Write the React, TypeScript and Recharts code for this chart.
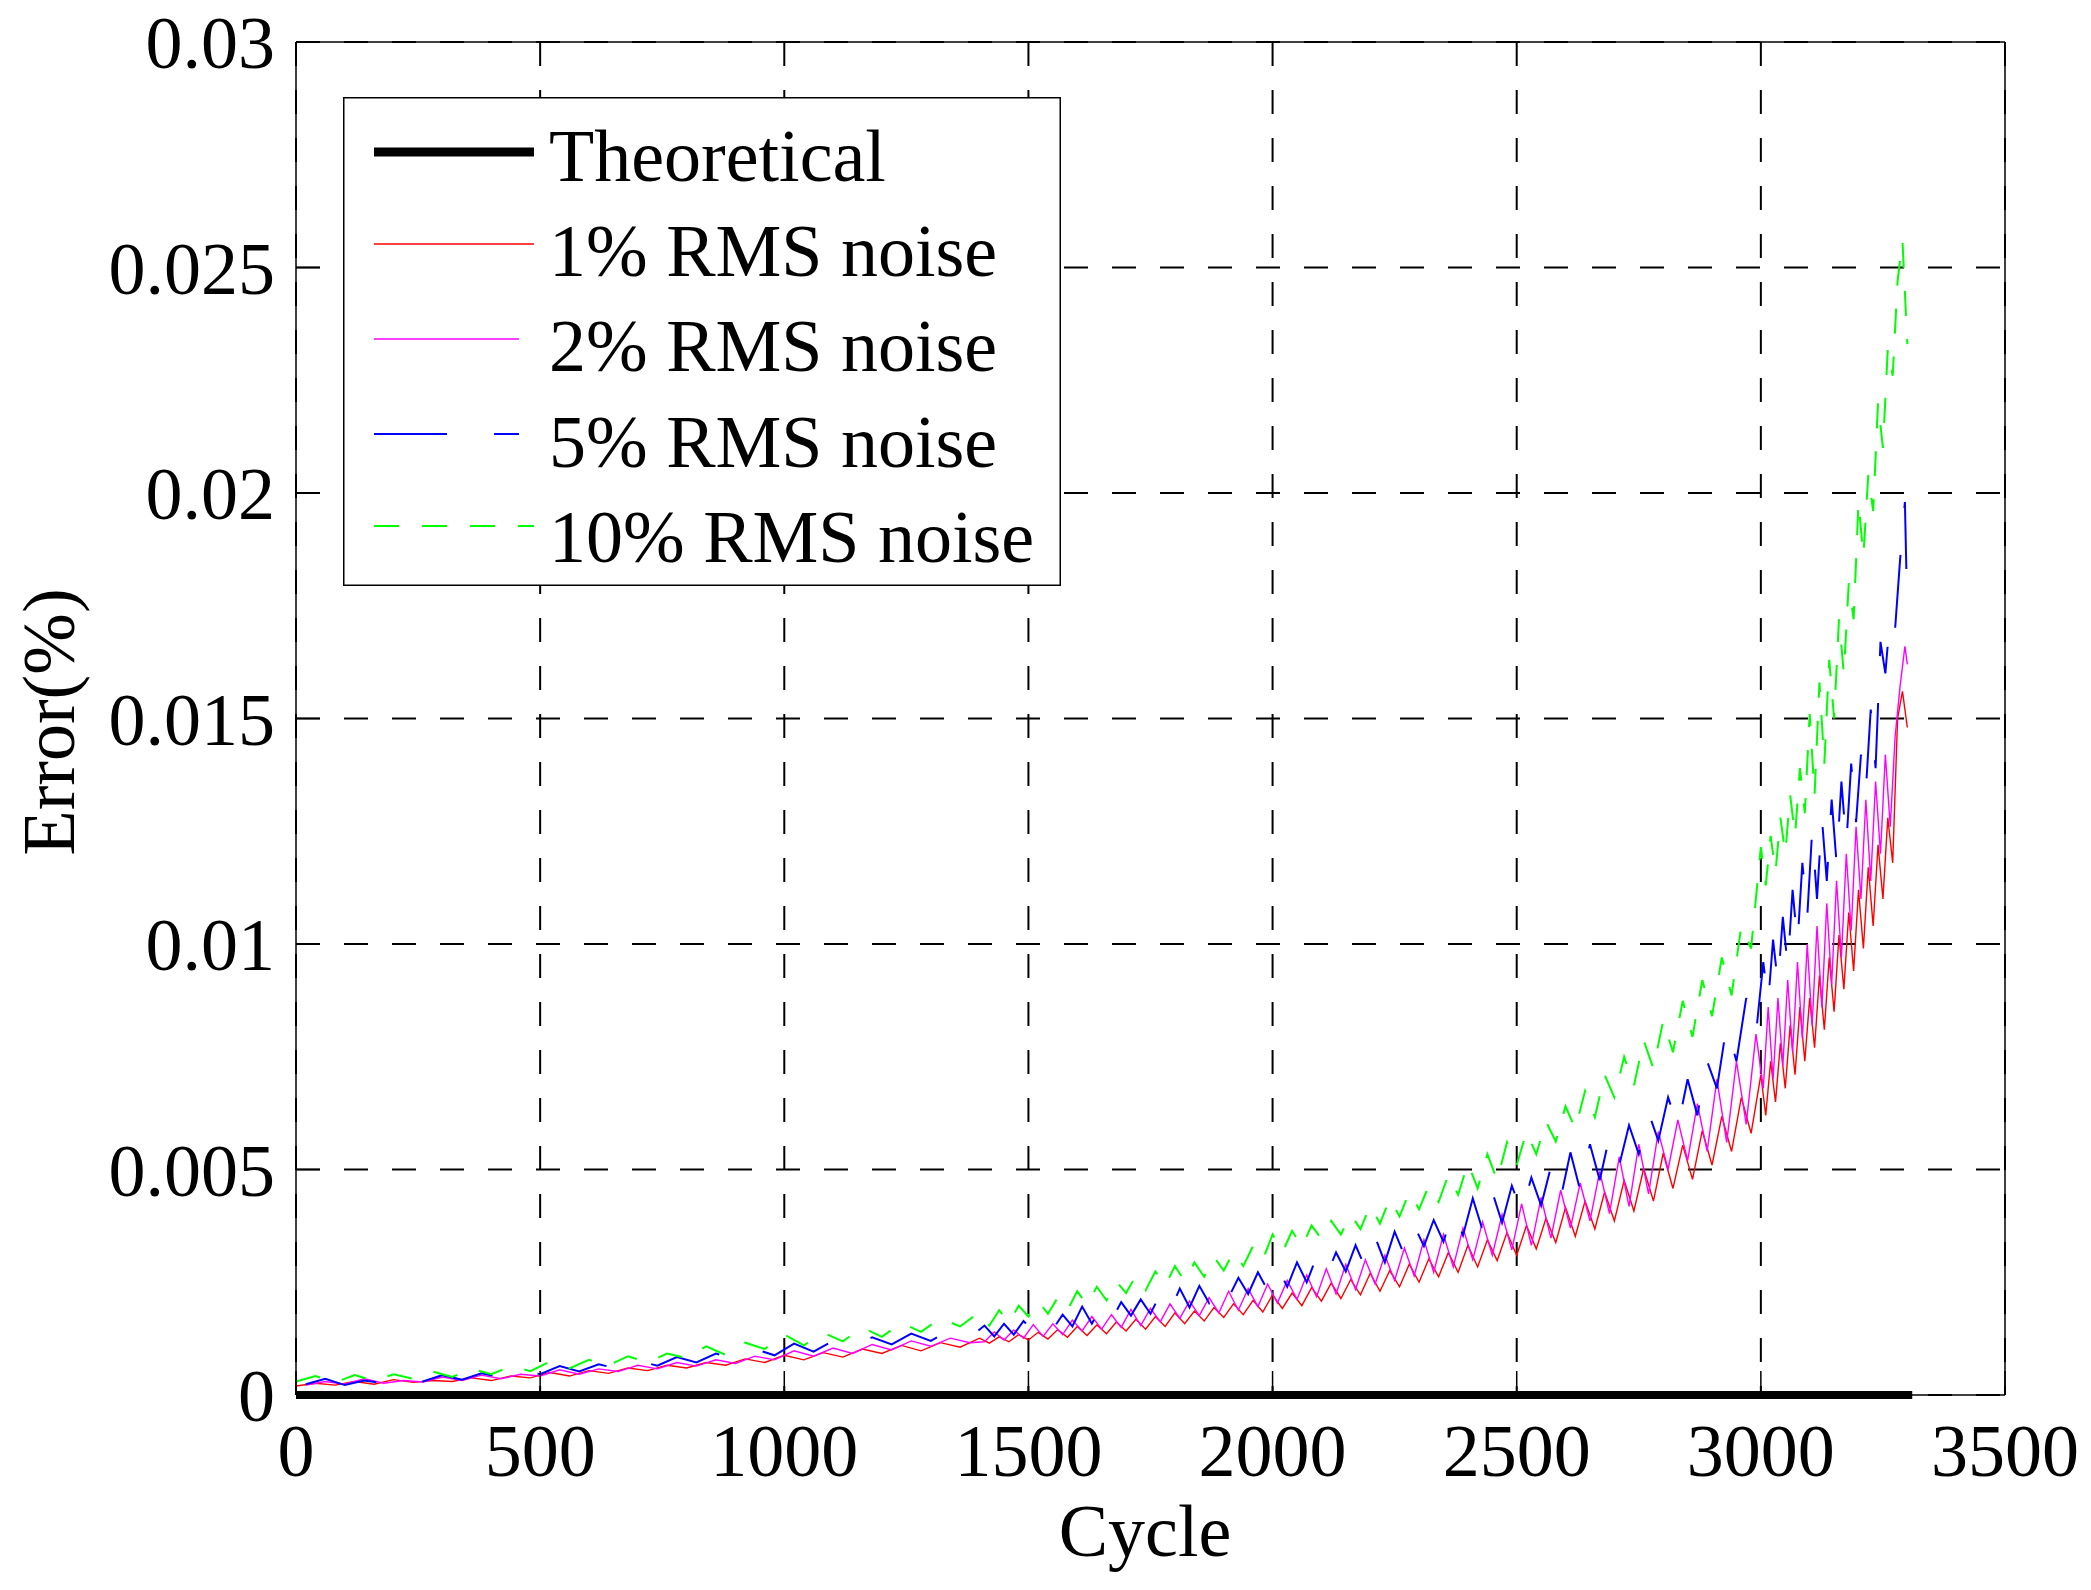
import React from 'react';
import { LineChart, Line, XAxis, YAxis, CartesianGrid, Legend } from 'recharts';

const FONT = '"Liberation Serif", "Times New Roman", Times, serif';

// sample positions (cycles); grid B is offset so the traces don't spike in lockstep
const cyclesA = [
  0, 40, 80, 120, 160, 200, 240, 280, 320, 360,
  400, 440, 480, 520, 560, 600, 640, 680, 720, 760,
  800, 840, 880, 920, 960, 1000, 1040, 1080, 1120, 1160,
  1200, 1240, 1280, 1320, 1360,
  1400, 1420, 1440, 1460, 1480, 1500, 1520, 1540, 1560, 1580,
  1600, 1620, 1640, 1660, 1680, 1700, 1720, 1740, 1760, 1780,
  1800, 1820, 1840, 1860, 1880, 1900, 1920, 1940, 1960, 1980,
  2000, 2020, 2040, 2060, 2080, 2100, 2120, 2140, 2160, 2180,
  2200, 2220, 2240, 2260, 2280, 2300, 2320, 2340, 2360, 2380,
  2400, 2420, 2440, 2460, 2480, 2500, 2520, 2540, 2560, 2580,
  2600, 2620, 2640, 2660, 2680, 2700, 2720, 2740, 2760, 2780,
  2800, 2820, 2840, 2860, 2880, 2900, 2920, 2940, 2960, 2980,
  3000, 3010, 3020, 3030, 3040, 3050, 3060, 3070, 3080, 3090,
  3100, 3110, 3120, 3130, 3140, 3150, 3160, 3170, 3180, 3190,
  3200, 3210, 3220, 3230, 3240, 3250, 3260, 3270, 3280, 3290,
  3300,
];
const cyclesB = [
  20, 60, 100, 140, 180, 220, 260, 300, 340, 380,
  420, 460, 500, 540, 580, 620, 660, 700, 740, 780,
  820, 860, 900, 940, 980, 1020, 1060, 1100, 1140, 1180,
  1220, 1260, 1300, 1340, 1380,
  1410, 1430, 1450, 1470, 1490, 1510, 1530, 1550, 1570, 1590,
  1610, 1630, 1650, 1670, 1690, 1710, 1730, 1750, 1770, 1790,
  1810, 1830, 1850, 1870, 1890, 1910, 1930, 1950, 1970, 1990,
  2010, 2030, 2050, 2070, 2090, 2110, 2130, 2150, 2170, 2190,
  2210, 2230, 2250, 2270, 2290, 2310, 2330, 2350, 2370, 2390,
  2410, 2430, 2450, 2470, 2490, 2510, 2530, 2550, 2570, 2590,
  2610, 2630, 2650, 2670, 2690, 2710, 2730, 2750, 2770, 2790,
  2810, 2830, 2850, 2870, 2890, 2910, 2930, 2950, 2970, 2990,
  3005, 3015, 3025, 3035, 3045, 3055, 3065, 3075, 3085, 3095,
  3105, 3115, 3125, 3135, 3145, 3155, 3165, 3175, 3185, 3195,
  3205, 3215, 3225, 3235, 3245, 3255, 3265, 3275, 3285, 3295,
  3300,
];

// Error (%)
const noise1 = [
  0.0002, 0.00026, 0.00022, 0.0003, 0.00024, 0.00034, 0.00028, 0.00032, 0.0003, 0.00038,
  0.00032, 0.00042, 0.00038, 0.0005, 0.00042, 0.00054, 0.00048, 0.0006, 0.00054, 0.00066,
  0.0006, 0.00072, 0.00066, 0.0008, 0.00072, 0.00088, 0.00078, 0.00094, 0.00084, 0.00102,
  0.00092, 0.0011, 0.00098, 0.00116, 0.00106,
  0.00126, 0.00115, 0.00129, 0.00118, 0.00134, 0.00122, 0.00139, 0.00124, 0.00145, 0.00128,
  0.00152, 0.00132, 0.00155, 0.00136, 0.00162, 0.00142, 0.00168, 0.00146, 0.00174, 0.00152,
  0.00182, 0.00158, 0.00186, 0.00164, 0.00194, 0.00172, 0.00202, 0.00178, 0.0021, 0.00184,
  0.00222, 0.00192, 0.00226, 0.00198, 0.00238, 0.00208, 0.00248, 0.00214, 0.00256, 0.00222,
  0.0027, 0.0023, 0.00276, 0.0024, 0.0029, 0.0025, 0.00302, 0.00262, 0.00316, 0.00272,
  0.00332, 0.00284, 0.00344, 0.00298, 0.0036, 0.0031, 0.00376, 0.00324, 0.00392, 0.00338,
  0.00416, 0.00352, 0.0043, 0.00368, 0.0045, 0.00386, 0.00476, 0.00408, 0.00502, 0.0043,
  0.00536, 0.00458, 0.00554, 0.00478, 0.00586, 0.0051, 0.00618, 0.0054, 0.0066, 0.0058,
  0.0071, 0.0062, 0.0074, 0.0065, 0.0078, 0.0068, 0.0082, 0.0071, 0.0086, 0.0074,
  0.0088, 0.0077, 0.0093, 0.0081, 0.0097, 0.0085, 0.0102, 0.009, 0.0107, 0.0094,
  0.0112, 0.0099, 0.0117, 0.0104, 0.0122, 0.011, 0.0128, 0.0118, 0.015, 0.0156,
  0.0148,
];
const noise2 = [
  0.00022, 0.0003, 0.00024, 0.00036, 0.00026, 0.00032, 0.00029, 0.0004, 0.00032, 0.00044,
  0.00036, 0.00046, 0.00042, 0.00056, 0.00046, 0.00058, 0.00052, 0.00066, 0.00058, 0.00072,
  0.00064, 0.00078, 0.0007, 0.00086, 0.00078, 0.00098, 0.00086, 0.00104, 0.00092, 0.00112,
  0.001, 0.0012, 0.00108, 0.00126, 0.00116,
  0.00118, 0.0014, 0.00122, 0.00144, 0.00126, 0.00156, 0.0013, 0.00158, 0.00134, 0.00166,
  0.00142, 0.00174, 0.00146, 0.00178, 0.0015, 0.0019, 0.00154, 0.00192, 0.00162, 0.00202,
  0.0017, 0.00208, 0.00176, 0.00216, 0.00182, 0.0023, 0.00188, 0.00236, 0.00196, 0.00246,
  0.00204, 0.00254, 0.00212, 0.00266, 0.00218, 0.0028, 0.00224, 0.0029, 0.00234, 0.003,
  0.00246, 0.0031, 0.00254, 0.00326, 0.00264, 0.00344, 0.00272, 0.00356, 0.00284, 0.0037,
  0.003, 0.00384, 0.0031, 0.004, 0.00322, 0.00424, 0.00332, 0.00438, 0.00348, 0.00454,
  0.0037, 0.0047, 0.00386, 0.00496, 0.00402, 0.00528, 0.00418, 0.00556, 0.00446, 0.00584,
  0.005, 0.0061, 0.0052, 0.00646, 0.0054, 0.007, 0.0056, 0.0074, 0.006, 0.008,
  0.0068, 0.0086, 0.007, 0.0088, 0.0073, 0.0092, 0.0076, 0.0096, 0.0079, 0.01,
  0.0082, 0.0104, 0.0086, 0.0109, 0.0091, 0.0114, 0.0097, 0.012, 0.0103, 0.0126,
  0.011, 0.0132, 0.0114, 0.0136, 0.012, 0.0142, 0.0126, 0.0146, 0.0157, 0.0166,
  0.0162,
];
const noise5 = [
  0.00024, 0.00036, 0.00022, 0.00032, 0.00026, 0.00038, 0.0003, 0.00044, 0.00034, 0.00048,
  0.00039, 0.00056, 0.00046, 0.00064, 0.00052, 0.00068, 0.00058, 0.00076, 0.00065, 0.00084,
  0.00072, 0.00092, 0.00079, 0.00102, 0.00088, 0.00114, 0.00096, 0.0012, 0.00104, 0.00128,
  0.00112, 0.00136, 0.0012, 0.00144, 0.00128,
  0.00154, 0.0013, 0.00158, 0.00134, 0.00164, 0.00142, 0.0017, 0.00146, 0.00178, 0.00152,
  0.00196, 0.00158, 0.002, 0.00166, 0.00206, 0.00176, 0.00212, 0.0018, 0.00224, 0.00186,
  0.00236, 0.00194, 0.00242, 0.00204, 0.0025, 0.00216, 0.0026, 0.00224, 0.00272, 0.00232,
  0.00284, 0.0024, 0.00294, 0.0025, 0.00306, 0.00264, 0.00316, 0.00274, 0.00332, 0.00282,
  0.0035, 0.00294, 0.00362, 0.0031, 0.00376, 0.0033, 0.00388, 0.0034, 0.00408, 0.00354,
  0.00436, 0.00366, 0.0045, 0.00382, 0.00464, 0.00406, 0.00482, 0.0042, 0.00506, 0.00436,
  0.00538, 0.00454, 0.00556, 0.00476, 0.00574, 0.0051, 0.00598, 0.00534, 0.00626, 0.00564,
  0.0066, 0.00594, 0.007, 0.0062, 0.0074, 0.0068, 0.0082, 0.0074, 0.0088, 0.008,
  0.0096, 0.0087, 0.0101, 0.0091, 0.0106, 0.0095, 0.0112, 0.01, 0.0118, 0.0106,
  0.0125, 0.011, 0.0128, 0.0114, 0.0132, 0.0118, 0.0136, 0.0122, 0.014, 0.0127,
  0.0142, 0.0134, 0.0152, 0.0139, 0.0167, 0.016, 0.0173, 0.017, 0.0185, 0.0198,
  0.0173,
];
const noise10 = [
  0.0003, 0.00042, 0.00028, 0.00044, 0.00032, 0.00046, 0.00036, 0.00052, 0.0004, 0.00058,
  0.00046, 0.00064, 0.00053, 0.00074, 0.00059, 0.00078, 0.00066, 0.00086, 0.00072, 0.00092,
  0.00082, 0.00108, 0.00089, 0.00116, 0.00102, 0.00134, 0.0011, 0.00138, 0.00119, 0.0015,
  0.00129, 0.0016, 0.0014, 0.0017, 0.00152,
  0.00184, 0.00154, 0.00188, 0.0016, 0.00198, 0.00174, 0.00208, 0.0018, 0.00216, 0.00188,
  0.0023, 0.002, 0.0024, 0.0021, 0.00252, 0.00226, 0.00264, 0.00232, 0.00274, 0.00242,
  0.00286, 0.00252, 0.00294, 0.00262, 0.00306, 0.00276, 0.00318, 0.00286, 0.0033, 0.003,
  0.00356, 0.00316, 0.00364, 0.00328, 0.00376, 0.00346, 0.00386, 0.00356, 0.004, 0.00368,
  0.0042, 0.0038, 0.00436, 0.00396, 0.0045, 0.00412, 0.00464, 0.00428, 0.00488, 0.00444,
  0.00514, 0.00458, 0.00534, 0.00476, 0.0056, 0.0051, 0.00584, 0.00534, 0.00606, 0.00562,
  0.0064, 0.0059, 0.00674, 0.00616, 0.0071, 0.0066, 0.0075, 0.00686, 0.00786, 0.00724,
  0.0083, 0.0076, 0.00874, 0.00794, 0.0092, 0.0084, 0.0097, 0.00886, 0.0104, 0.0099,
  0.01215, 0.0113, 0.0124, 0.0116, 0.0128, 0.012, 0.0133, 0.0124, 0.0139, 0.0129,
  0.0151, 0.0133, 0.0158, 0.014, 0.0163, 0.015, 0.0172, 0.016, 0.018, 0.0172,
  0.0198, 0.0186, 0.0204, 0.0196, 0.022, 0.021, 0.0232, 0.0226, 0.0247, 0.0256,
  0.0233,
];
const theoryCycles = [0, 3310];
const theoryValues = [0, 0];

const xTicks = [0, 500, 1000, 1500, 2000, 2500, 3000, 3500];
const yTicks = [0, 0.005, 0.01, 0.015, 0.02, 0.025, 0.03];
const yTickLabels = ['0', '0.005', '0.01', '0.015', '0.02', '0.025', '0.03'];

const toRows = (cycles: number[], values: number[]) =>
  cycles.map((c, i) => ({ cycle: c, value: values[i] }));

const series = [
  { name: '1% RMS noise', data: toRows(cyclesA, noise1), color: '#ff0000', width: 1.4, dash: undefined as string | undefined, legendLen: 160 },
  { name: '2% RMS noise', data: toRows(cyclesB, noise2), color: '#ff00ff', width: 1.4, dash: undefined as string | undefined, legendLen: 145 },
  { name: '5% RMS noise', data: toRows(cyclesB, noise5), color: '#0000ff', width: 2, dash: '73 47', legendLen: 145 },
  { name: '10% RMS noise', data: toRows(cyclesA, noise10), color: '#00ff00', width: 2, dash: '25 23', legendLen: 160 },
];
const theory = { name: 'Theoretical', data: toRows(theoryCycles, theoryValues), color: '#000000', width: 8 };

const legendRows = [
  { name: theory.name, color: theory.color, width: 9, dash: undefined as string | undefined, len: 160 },
  ...series.map(s => ({ name: s.name, color: s.color, width: s.width, dash: s.dash, len: s.legendLen })),
];

function LegendBox() {
  const lineY = [55, 147, 242, 337, 429];
  const textY = [84, 179, 274, 370, 465];
  return (
    <svg width={718} height={489} style={{ display: 'block' }}>
      <rect x={0.75} y={0.75} width={716.5} height={487.5} fill="#fff" stroke="#000" strokeWidth={1.5} />
      {legendRows.map((r, i) => (
        <g key={r.name}>
          <line x1={31} x2={31 + r.len} y1={lineY[i]} y2={lineY[i]}
                stroke={r.color} strokeWidth={r.width} strokeDasharray={r.dash} />
          <text x={206} y={textY[i]} fontFamily={FONT} fontSize={74} fill="#000">{r.name}</text>
        </g>
      ))}
    </svg>
  );
}

const tickStyle = { fontSize: 74, fontFamily: FONT, fill: '#000' };
const axisStroke = { stroke: '#000', strokeWidth: 1.5 };

export default function App() {
  return (
    <div style={{ position: 'absolute', left: 0, top: 0, background: '#fff' }}>
      <LineChart width={2091} height={1590} margin={{ top: 0, right: 0, bottom: 0, left: 0 }}>
        <CartesianGrid xAxisId="bottom" yAxisId="left" stroke="#000" strokeWidth={2}
                       strokeDasharray="24 24" />
        <XAxis xAxisId="bottom" type="number" dataKey="cycle" domain={[0, 3500]} ticks={xTicks}
               interval={0} height={195} tickSize={-24} tickMargin={52}
               axisLine={axisStroke} tickLine={axisStroke} tick={tickStyle}
               label={() => (
                 <text x={1145} y={1556} textAnchor="middle" fontFamily={FONT} fontSize={74} fill="#000">Cycle</text>
               )} />
        <XAxis xAxisId="top" orientation="top" type="number" dataKey="cycle" domain={[0, 3500]}
               ticks={xTicks} interval={0} height={42} tickSize={-24}
               axisLine={axisStroke} tickLine={axisStroke} tick={false} />
        <YAxis yAxisId="left" type="number" domain={[0, 0.03]} ticks={yTicks} interval={0}
               width={296} tickSize={-24} tickMargin={45}
               tickFormatter={(v: number) => yTickLabels[yTicks.indexOf(v)] ?? String(v)}
               axisLine={axisStroke} tickLine={axisStroke} tick={tickStyle}
               label={() => (
                 <text transform="translate(74,722) rotate(-90)" textAnchor="middle"
                       fontFamily={FONT} fontSize={74} fill="#000">Error(%)</text>
               )} />
        <YAxis yAxisId="right" orientation="right" type="number" domain={[0, 0.03]} ticks={yTicks}
               interval={0} width={86} tickSize={-24}
               axisLine={axisStroke} tickLine={axisStroke} tick={false} />
        {series.map(s => (
          <Line key={s.name} name={s.name} data={s.data} dataKey="value" xAxisId="bottom" yAxisId="left"
                type="linear" stroke={s.color} strokeWidth={s.width} strokeDasharray={s.dash}
                dot={false} activeDot={false} isAnimationActive={false} />
        ))}
        <Line name={theory.name} data={theory.data} dataKey="value" xAxisId="bottom" yAxisId="left"
              type="linear" stroke={theory.color} strokeWidth={theory.width}
              dot={false} activeDot={false} isAnimationActive={false} />
        <Legend layout="vertical" align="center" verticalAlign="middle"
                wrapperStyle={{ left: 343, top: 97, width: 718, height: 489 }}
                content={() => <LegendBox />} />
      </LineChart>
    </div>
  );
}
